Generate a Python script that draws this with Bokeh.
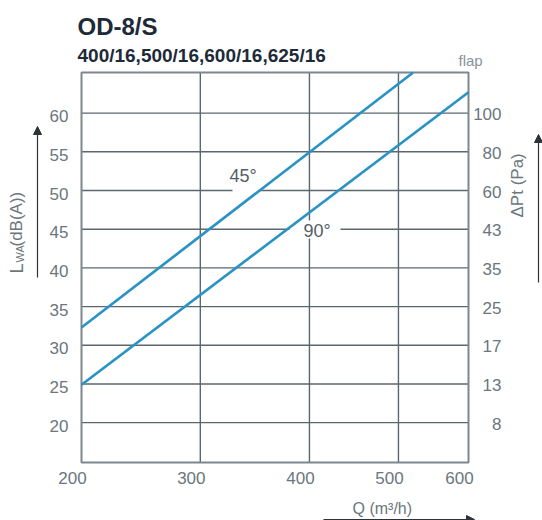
import numpy as np
from bokeh.plotting import figure
from bokeh.models import Range1d, Arrow, NormalHead
from bokeh.core.properties import value
from bokeh.embed import file_html
from bokeh.resources import INLINE

# ---------------- data ----------------
Q_TICKS = [200, 300, 400, 500, 600]                      # Q (m3/h)
LW_TICKS = [20, 25, 30, 35, 40, 45, 50, 55, 60]          # Lwa dB(A), left scale
DP_LABELS = ["8", "13", "17", "25", "35", "43", "60", "80", "100"]  # dPt (Pa), right scale
Q_45 = [200, 521]
LW_45 = [32.3, 65.25]
Q_90 = [200, 600]
LW_90 = [24.9, 62.7]

# printed (non-uniform) spacing of the Q scale, fraction of chart width
Q_AXIS_FRAC = [0.0, 0.307, 0.589, 0.819, 1.0]


def qx(q):
    return np.interp(q, Q_TICKS, Q_AXIS_FRAC)


Y0, Y1 = 14.85, 65.25
W, H = 542, 520
FL, FT, FW, FH = 81, 72, 387, 390  # chart box on the page (px)


def px(x):
    return (x - FL) / FW


def py(y):
    return Y1 - (y - FT) / FH * (Y1 - Y0)


REG = value("Liberation Sans")
GRAY = "#6b767d"
GRID = "#5b676e"
BLUE = "#2a93c5"
DARK = "#1d2a38"

p = figure(width=W, height=H, min_border=0,
           x_range=Range1d(px(0), px(W)), y_range=Range1d(py(H), py(0)),
           x_axis_location=None, y_axis_location=None,
           toolbar_location=None, output_backend="svg", title=None)
p.grid.visible = False
p.outline_line_color = None
p.background_fill_color = "white"
p.border_fill_color = "white"

# grid
p.segment(x0=0, y0=LW_TICKS, x1=1, y1=LW_TICKS, line_color=GRID, line_width=1.4)
vx = [qx(q) for q in Q_TICKS[1:-1]]
p.segment(x0=vx, y0=Y0, x1=vx, y1=Y1, line_color=GRID, line_width=1.4)

# white boxes behind curve labels (gaps in the grid)
p.quad(left=[px(232), px(289)], right=[px(258), px(340)],
       bottom=[py(192), py(238)], top=[py(166), py(220)],
       fill_color="white", line_color=None)

# chart frame
p.quad(left=0, right=1, bottom=Y0, top=Y1, fill_color=None,
       line_color="#7d878d", line_width=2)

# curves
p.line(qx(Q_45), LW_45, line_color=BLUE, line_width=2.7)
p.line(qx(Q_90), LW_90, line_color=BLUE, line_width=2.7)

p.text(x=[px(229), px(303)], y=[py(175.5), py(230)], text=["45°", "90°"],
       text_font=REG, text_font_size="18px", text_color="#555e64",
       text_baseline="middle", text_align="left")

# tick labels
p.text(x=px(68), y=LW_TICKS, text=[str(v) for v in LW_TICKS], y_offset=3,
       text_align="right", text_baseline="middle",
       text_font=REG, text_font_size="17px", text_color=GRAY)
p.text(x=px(501), y=LW_TICKS, text=DP_LABELS, y_offset=1,
       text_align="right", text_baseline="middle",
       text_font=REG, text_font_size="17px", text_color=GRAY)
p.text(x=qx(Q_TICKS), y=Y0, text=[str(q) for q in Q_TICKS], x_offset=-9, y_offset=15,
       text_align="center", text_baseline="middle",
       text_font=REG, text_font_size="17px", text_color=GRAY)

# titles
p.text(x=px(77), y=py(25.5), text=["OD-8/S"], text_font=REG,
       text_font_size="24px", text_font_style="bold", text_color=DARK,
       text_baseline="middle")
p.text(x=px(77), y=py(55), text=["400/16,500/16,600/16,625/16"], text_font=REG,
       text_font_size="19px", text_font_style="bold", text_color=DARK,
       text_baseline="middle")
p.text(x=px(458), y=py(60), text=["flap"], text_font=REG,
       text_font_size="15px", text_color="#8a949a", text_baseline="middle")

# axis titles
p.text(x=px(16), y=py(273), text=["L"], angle=np.pi / 2, text_font=REG,
       text_font_size="18px", text_color=GRAY, text_baseline="alphabetic")
p.text(x=px(19), y=py(262), text=["WA"], angle=np.pi / 2, text_font=REG,
       text_font_size="11px", text_color=GRAY, text_baseline="alphabetic")
p.text(x=px(16), y=py(246), text=["(dB(A))"], angle=np.pi / 2, text_font=REG,
       text_font_size="17px", text_color=GRAY, text_baseline="alphabetic")
p.text(x=px(517), y=py(217), text=["ΔPt (Pa)"], angle=np.pi / 2, text_font=REG,
       text_font_size="17px", text_color=GRAY, text_baseline="alphabetic")
p.text(x=px(352), y=py(508), text=["Q (m³/h)"], text_font=REG,
       text_font_size="16px", text_color=GRAY, text_baseline="middle")

# arrows
AC = "#2e3338"
for xs, ys, xe, ye in [(37, 277, 37, 126), (538, 282, 538, 134), (323, 519, 474, 519)]:
    p.add_layout(Arrow(x_start=px(xs), y_start=py(ys), x_end=px(xe), y_end=py(ye),
                       line_color=AC, line_width=1.2,
                       end=NormalHead(size=8, fill_color=AC, line_color=AC)))

open("out.html", "w").write(file_html(p, INLINE))
